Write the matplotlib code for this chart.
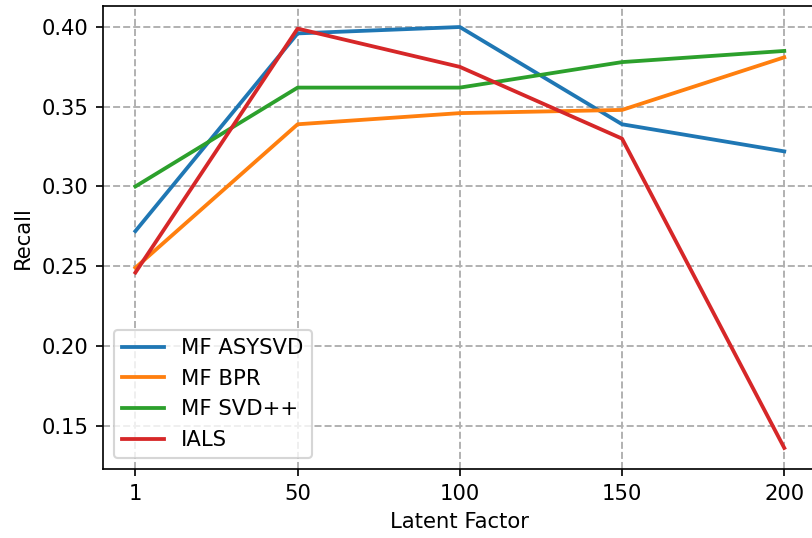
import matplotlib
matplotlib.use("Agg")
import matplotlib.pyplot as plt

latent_factors = ["1", "50", "100", "150", "200"]

asysvd = [0.272, 0.396, 0.400, 0.339, 0.322]
bpr = [0.249, 0.339, 0.346, 0.348, 0.381]
svdpp = [0.300, 0.362, 0.362, 0.378, 0.385]
ials = [0.246, 0.399, 0.375, 0.330, 0.136]

DPI = 152


def main():
    fig = plt.figure(figsize=(812 / DPI, 538 / DPI), dpi=DPI)
    # axes runs a little past the right edge, like the cropped original
    ax = fig.add_axes([0.1268, 0.1283, 0.879, 0.8606])

    x = range(len(latent_factors))
    ax.plot(x, asysvd, linewidth=1.8, label="MF ASYSVD")
    ax.plot(x, bpr, linewidth=1.8, label="MF BPR")
    ax.plot(x, svdpp, linewidth=1.8, label="MF SVD++")
    ax.plot(x, ials, linewidth=1.8, label="IALS")

    ax.set_xticks(list(x))
    ax.set_xticklabels(latent_factors)
    ax.set_xlabel("Latent Factor")
    ax.set_ylabel("Recall")

    ax.grid(True, linestyle="--", linewidth=0.9, color="#b0b0b0")
    ax.legend(loc="lower left")

    fig.savefig("out.png", dpi=DPI)
    plt.close(fig)


if __name__ == "__main__":
    main()
